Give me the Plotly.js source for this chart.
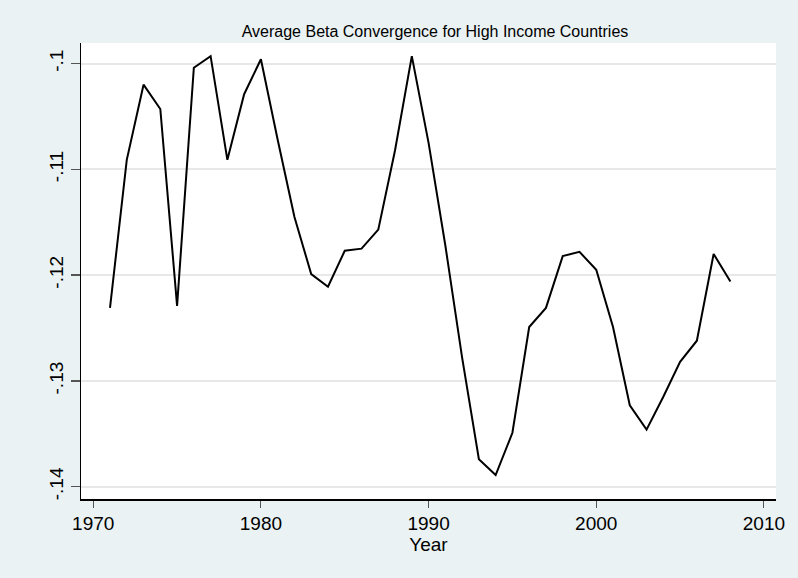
<!DOCTYPE html>
<html>
<head>
<meta charset="utf-8">
<script src="https://cdn.plot.ly/plotly-3.0.1.min.js"></script>
<style>
  html, body { margin: 0; padding: 0; background: #eaf2f3; }
  #chart { width: 798px; height: 578px; }
</style>
</head>
<body>
<div id="chart"></div>
<script>
const years = [1971,1972,1973,1974,1975,1976,1977,1978,1979,1980,
               1981,1982,1983,1984,1985,1986,1987,1988,1989,1990,
               1991,1992,1993,1994,1995,1996,1997,1998,1999,2000,
               2001,2002,2003,2004,2005,2006,2007,2008];
const beta = [-0.1231,-0.1091,-0.1020,-0.1043,-0.1229,-0.1004,-0.0993,-0.1091,-0.1029,-0.0996,
              -0.1072,-0.1145,-0.1199,-0.1211,-0.1177,-0.1175,-0.1157,-0.1082,-0.0993,-0.1075,
              -0.1172,-0.1278,-0.1374,-0.1389,-0.1349,-0.1249,-0.1231,-0.1182,-0.1178,-0.1195,
              -0.1249,-0.1323,-0.1346,-0.1315,-0.1282,-0.1262,-0.1180,-0.1206];
const xTickVals = [1970,1980,1990,2000,2010];
const yTickVals = [-0.1,-0.11,-0.12,-0.13,-0.14];
const yTickText = ["-.1","-.11","-.12","-.13","-.14"];
const chartTitle = "Average Beta Convergence for High Income Countries";
const xTitle = "Year";

const trace = {
  x: years, y: beta, type: 'scatter', mode: 'lines',
  line: {color: '#000000', width: 2},
  hoverinfo: 'skip'
};

const layout = {
  width: 798, height: 578,
  paper_bgcolor: '#eaf2f3',
  plot_bgcolor: '#ffffff',
  margin: {l: 81, r: 22, t: 43, b: 79, pad: 0},
  font: {family: 'Liberation Sans, Arial, sans-serif', color: '#000000'},
  showlegend: false,
  title: {
    text: chartTitle,
    font: {size: 16, color: '#000000'},
    xref: 'container', yref: 'container',
    x: 435/798, xanchor: 'center',
    y: 1 - 31/578, yanchor: 'middle'
  },
  xaxis: {
    range: [1969.27, 2010.72],
    tickmode: 'array', tickvals: xTickVals,
    ticks: 'outside', ticklen: 7, tickwidth: 1, tickcolor: '#555555',
    tickfont: {size: 19},
    showline: true, linecolor: '#000000', linewidth: 1.5,
    showgrid: false, zeroline: false,
    title: {text: xTitle, font: {size: 19}, standoff: 4}
  },
  yaxis: {
    range: [-0.14116, -0.09806],
    tickmode: 'array', tickvals: yTickVals, ticktext: yTickText,
    ticks: 'outside', ticklen: 9, tickwidth: 1.5, tickcolor: '#555555',
    tickangle: -90,
    tickfont: {size: 19},
    showline: true, linecolor: '#000000', linewidth: 1.5,
    showgrid: true, gridcolor: '#e8e8e8', gridwidth: 2,
    zeroline: false
  }
};

Plotly.newPlot('chart', [trace], layout, {staticPlot: true, displayModeBar: false});
</script>
</body>
</html>
